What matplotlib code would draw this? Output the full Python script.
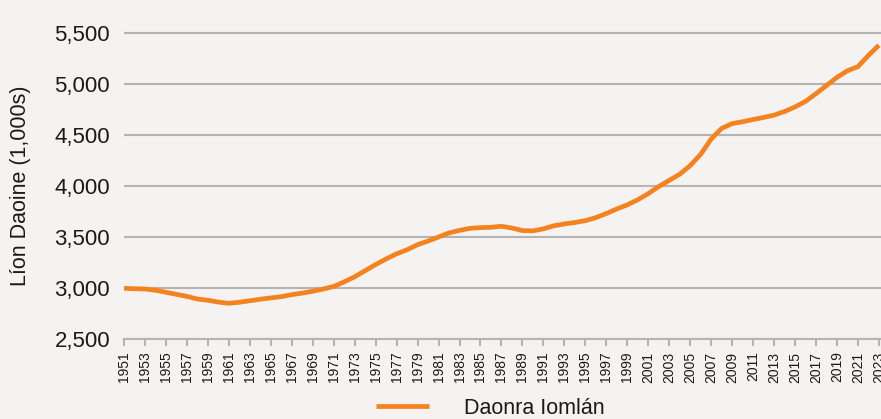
import numpy as np
import matplotlib.pyplot as plt

plt.rcParams['font.family'] = ['Liberation Sans', 'DejaVu Sans']

years = list(range(1951, 2024))
population = [
    2997, 2993, 2990, 2978, 2958, 2938, 2918, 2892, 2880, 2862,   # 1951-1960
    2850, 2860, 2875, 2890, 2903, 2915, 2935, 2950, 2968, 2990,   # 1961-1970
    3015, 3060, 3110, 3170, 3230, 3285, 3335, 3375, 3425, 3460,   # 1971-1980
    3500, 3540, 3565, 3585, 3592, 3595, 3605, 3588, 3563, 3560,   # 1981-1990
    3580, 3610, 3628, 3642, 3660, 3690, 3730, 3775, 3815, 3865,   # 1991-2000
    3925, 3995, 4055, 4115, 4200, 4310, 4460, 4565, 4612, 4630,   # 2001-2010
    4652, 4672, 4695, 4730, 4775, 4830, 4905, 4985, 5065, 5130,   # 2011-2020
    5170, 5280, 5380,                                             # 2021-2023
]
y_ticks = [2500, 3000, 3500, 4000, 4500, 5000, 5500]
series_name = 'Daonra Iomlán'
y_label = 'Líon Daoine (1,000s)'

bg = '#f4f3f1'
grid_c = '#b4b4b4'
orange = '#f4821f'
txt = '#1a1a1a'

W, H = 881, 419
fig = plt.figure(figsize=(W / 100, H / 100), dpi=100, facecolor=bg)
ax = fig.add_axes([124 / W, 80 / H, (W - 124) / W, (339 - 26) / H])
ax.set_facecolor(bg)

ax.plot(years, population, color=orange, lw=3.4, solid_joinstyle='round',
        solid_capstyle='butt', label=series_name, zorder=3)

ax.set_xlim(1951, 2023.2)
ax.set_ylim(2500, 2500 + (339 - 26) / 51 * 500)
ax.set_yticks(y_ticks)
ax.set_yticklabels([f'{v:,}' for v in y_ticks])
ax.set_xticks(years[::2])
ax.set_xticklabels([str(y) for y in years[::2]], rotation=90)

ax.grid(axis='y', color=grid_c, lw=1.5)
ax.set_axisbelow(True)
for s in ['top', 'right', 'left']:
    ax.spines[s].set_visible(False)
ax.spines['bottom'].set_color(grid_c)
ax.spines['bottom'].set_linewidth(1.5)

ax.tick_params(axis='y', length=0, pad=10, labelsize=16, labelcolor=txt)
ax.tick_params(axis='x', length=5, width=1.5, color=grid_c, pad=4,
               labelsize=10, labelcolor=txt)

ax.set_ylabel(y_label, fontsize=15.5, color=txt)
ax.yaxis.set_label_coords(-(124 - 31) / (W - 124), (339 - 186) / (339 - 26))

leg = fig.legend(loc='center', bbox_to_anchor=(490 / W, 11 / H), frameon=False,
                 fontsize=15.5, handlelength=2.5, handletextpad=1.6)
for t in leg.get_texts():
    t.set_color(txt)

fig.savefig('out.png', dpi=100, facecolor=bg)
